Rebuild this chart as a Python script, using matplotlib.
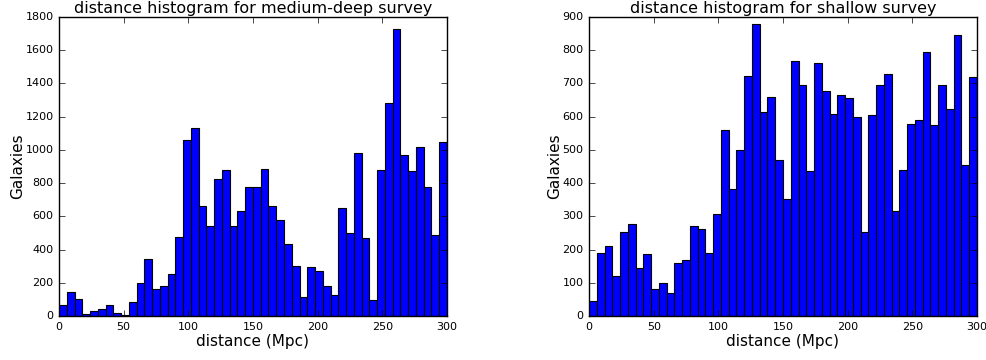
import matplotlib
matplotlib.use('Agg')
import matplotlib.pyplot as plt
import numpy as np

# bin edges: 50 bins of 6 Mpc from 0 to 300
edges = np.linspace(0, 300, 51)
centers = 0.5 * (edges[:-1] + edges[1:])

medium_deep = [68, 143, 100, 10, 28, 42, 64, 20, 6, 84,
               199, 345, 161, 181, 255, 474, 1058, 1130, 663, 544,
               827, 880, 544, 633, 775, 779, 884, 661, 578, 434,
               299, 114, 293, 269, 181, 127, 651, 500, 984, 470,
               96, 877, 1281, 1727, 968, 873, 1018, 775, 488, 1050]

shallow = [45, 191, 212, 121, 254, 278, 146, 186, 80, 100,
           68, 160, 169, 270, 263, 191, 306, 561, 381, 500,
           722, 878, 613, 660, 470, 353, 766, 694, 436, 760,
           678, 609, 664, 656, 600, 254, 604, 695, 728, 316,
           438, 578, 589, 793, 576, 695, 623, 846, 455, 719]

panels = [
    (medium_deep, 'distance histogram for medium-deep survey', 1800, 200),
    (shallow, 'distance histogram for shallow survey', 900, 100),
]

plt.style.use('classic')
fig = plt.figure(figsize=(9.87, 3.6), dpi=100, facecolor='white')

lefts = [0.0598, 0.5968]
for (counts, title, ymax, ystep), left in zip(panels, lefts):
    ax = fig.add_axes([left, 0.122, 0.393, 0.831])
    ax.hist(centers, bins=edges, weights=counts, color='b', edgecolor='k', linewidth=0.8)
    ax.set_xlim(0, 300)
    ax.set_ylim(0, ymax)
    ax.set_xticks(np.arange(0, 301, 50))
    ax.set_yticks(np.arange(0, ymax + 1, ystep))
    ax.tick_params(labelsize=8, pad=4)
    ax.set_title(title, fontsize=11.5, pad=3)
    ax.set_xlabel('distance (Mpc)', fontsize=11, labelpad=2)
    ax.set_ylabel('Galaxies', fontsize=11, labelpad=0)

fig.savefig('out.png', dpi=100, facecolor='white')
